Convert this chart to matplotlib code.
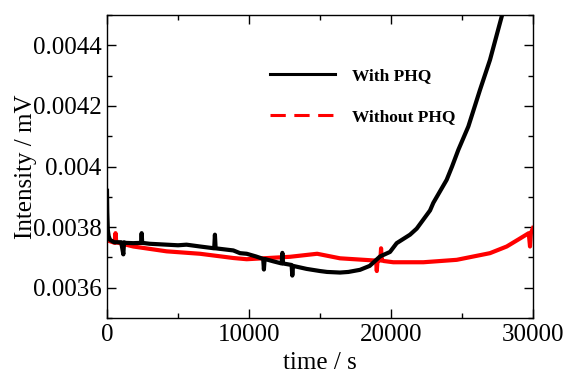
import matplotlib
matplotlib.use("Agg")
import matplotlib.pyplot as plt
from matplotlib.ticker import MultipleLocator, FuncFormatter
from matplotlib.lines import Line2D

plt.rcParams['font.family'] = ['Liberation Serif', 'DejaVu Serif']
plt.rcParams['mathtext.fontset'] = 'stix'

# With PHQ (black)
t_with = [0, 20, 60, 120, 211, 500, 1000, 1150, 1200, 1300, 1850, 2400, 2440, 2480,
          3000, 4200, 5000, 5600, 6549, 7550, 7600, 7650, 8000, 8894, 9366, 9838,
          10500, 11000, 11050, 11100, 11714, 12300, 12350, 12400, 13000, 13050, 13100,
          14062, 15000, 15500, 16408, 17000, 17817, 18500, 19225, 19930, 20400, 21340,
          21810, 22750, 22980, 23920, 24300, 24742, 25446, 26268, 26972, 27796, 28000]
v_with = [0.00392, 0.00385, 0.00379, 0.00377, 0.003758, 0.00375, 0.00375, 0.00371, 0.00375,
          0.003748, 0.003747, 0.003748, 0.00378, 0.003748,
          0.003745, 0.003742, 0.00374, 0.003742, 0.003736, 0.00373, 0.003775, 0.00373,
          0.003728, 0.003723, 0.003714, 0.003712,
          0.003703, 0.003695, 0.00366, 0.003695, 0.003687, 0.00368, 0.003715, 0.00368,
          0.003675, 0.00364, 0.003672,
          0.003662, 0.003655, 0.003652, 0.00365, 0.003652, 0.003659, 0.003672, 0.003703,
          0.003718, 0.003747, 0.003775,
          0.003795, 0.003855, 0.00388, 0.003956, 0.004, 0.004055, 0.004132, 0.004253,
          0.004352, 0.004495, 0.00453]

# Without PHQ (red)
t_without = [0, 100, 550, 600, 650, 1850, 4200, 6549, 8894, 9838, 12887, 14800, 16408,
             18756, 18950, 19000, 19050, 19250, 19300, 19350, 19500, 20160, 22280,
             24630, 26970, 28150, 29000, 29700, 29790, 29850, 30000]
v_without = [0.00376, 0.003755, 0.003748, 0.00378, 0.00375, 0.003736, 0.00372, 0.003712,
             0.003698, 0.003694, 0.003702, 0.003712, 0.003697,
             0.00369, 0.00369, 0.003655, 0.00369, 0.00369, 0.00373, 0.00369, 0.003688,
             0.003684, 0.003684,
             0.003692, 0.003714, 0.003736, 0.00376, 0.00378, 0.003736, 0.00378, 0.003797]

labels = ['With PHQ', 'Without PHQ']

fig = plt.figure(figsize=(5.67, 3.74), dpi=100)
ax = fig.add_axes([107/567, 1 - 318/374, (533-107)/567, (318-15)/374])

ax.plot(t_without, v_without, color='#ff0000', lw=3.0)
ax.plot(t_with, v_with, color='black', lw=3.0)

ax.set_xlim(0, 30000)
ax.set_ylim(0.0035, 0.0045)
ax.xaxis.set_major_locator(MultipleLocator(10000))
ax.xaxis.set_minor_locator(MultipleLocator(5000))
ax.yaxis.set_major_locator(MultipleLocator(0.0002))
ax.yaxis.set_minor_locator(MultipleLocator(0.0001))
ax.yaxis.set_major_formatter(FuncFormatter(lambda v, p: '%g' % round(v, 6)))
ax.xaxis.set_major_formatter(FuncFormatter(lambda v, p: '%d' % round(v)))

ax.tick_params(which='both', direction='in', top=True, right=True, labelsize=18, width=1.0)
ax.tick_params(which='major', length=6.5, pad=4)
ax.tick_params(which='minor', length=3.8)
for s in ax.spines.values():
    s.set_linewidth(1.0)

ax.set_xlabel('time / s', fontsize=18, labelpad=4.5)
ax.set_ylabel('Intensity / mV', fontsize=18)
ax.yaxis.set_label_coords(-0.164, 0.5)

handles = [Line2D([], [], color='black', lw=2.2),
           Line2D([], [], color='#ff0000', lw=2.2, dashes=(5, 2.8))]
leg = fig.legend(handles, labels, loc='upper left',
                 bbox_to_anchor=(270/567, 1 - 68/374), frameon=False,
                 prop={'family': 'Liberation Serif', 'weight': 'bold', 'size': 12.5},
                 handlelength=3.74, handletextpad=1.0, labelspacing=1.44,
                 borderpad=0, borderaxespad=0)

fig.savefig('out.png', dpi=100)
